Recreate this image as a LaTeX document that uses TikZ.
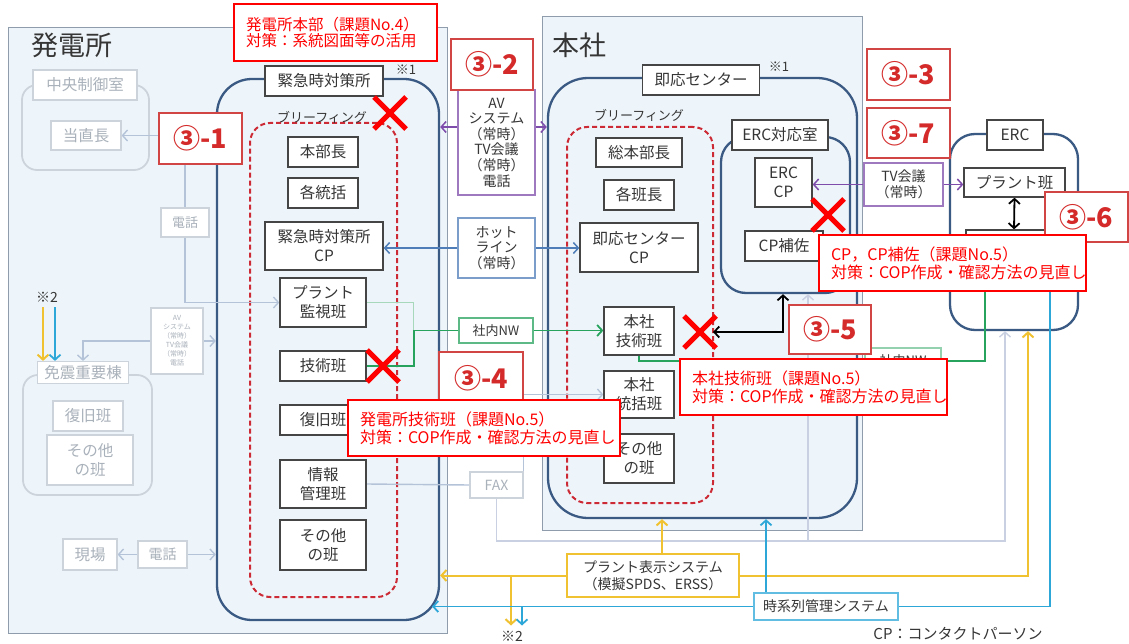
\documentclass[tikz,border=0pt]{standalone}
\usepackage{fontspec}
\setmainfont{Noto Sans CJK JP}
\usetikzlibrary{arrows.meta,calc}
\pgfdeclarelayer{bg}
\pgfdeclarelayer{lines}
\pgfdeclarelayer{top}
\pgfsetlayers{bg,lines,main,top}

\definecolor{regionfill}{HTML}{EEF5FA}
\definecolor{regionline}{HTML}{8E9CAC}
\definecolor{grp}{HTML}{3A5A84}
\definecolor{dashred}{HTML}{CC2B36}
\definecolor{boxline}{HTML}{454545}
\definecolor{txt}{HTML}{363636}
\definecolor{fadeline}{HTML}{CDD3DB}
\definecolor{fadetxt}{HTML}{A9B1BA}
\definecolor{fadearrow}{HTML}{B4C3D8}
\definecolor{callred}{HTML}{FF0000}
\definecolor{numred}{HTML}{D42A2A}
\definecolor{numline}{HTML}{D24545}
\definecolor{purp}{HTML}{7E4CAB}
\definecolor{hotb}{HTML}{4F7DB8}
\definecolor{grn}{HTML}{27A35E}
\definecolor{ltgrn}{HTML}{A8D8BC}
\definecolor{yel}{HTML}{F0C232}
\definecolor{cya}{HTML}{2DA7D8}
\definecolor{ltg}{HTML}{C9D0E2}

\tikzset{
  sz/.style 2 args={minimum width=#1pt,minimum height=#2pt},
  fnt/.style 2 args={font=\fontsize{#1}{#2}\selectfont},
  box/.style={draw=boxline,line width=1.3pt,fill=white,text=txt,inner sep=0pt,align=center,fnt={15.5}{19}},
  fbox/.style={draw=fadeline,line width=1.2pt,fill=white,text=fadetxt,inner sep=0pt,align=center,fnt={15.5}{19}},
  region/.style={draw=regionline,line width=1pt,fill=regionfill,inner sep=0pt},
  grpbox/.style={draw=grp,line width=2.3pt,rounded corners=35pt,inner sep=0pt},
  fgrp/.style={draw=fadeline,line width=1.8pt,rounded corners=15pt,inner sep=0pt},
  brief/.style={draw=dashred,line width=2pt,dash pattern=on 5pt off 3pt,rounded corners=20pt,inner sep=0pt},
  num/.style={draw=numline,line width=2pt,fill=white,text=numred,inner sep=0pt,font=\fontsize{27}{29}\selectfont\bfseries},
  call/.style={draw=callred,line width=2pt,fill=white,text=callred,align=left,inner xsep=12pt,inner ysep=0pt,fnt={16}{18}},
  cross/.style={draw=callred,line width=5pt},
  tip/.style={>={Straight Barb[length=5pt,width=11pt]}},
  fadearr/.style={tip,draw=fadearrow,line width=1.4pt},
  ltga/.style={tip,draw=ltg,line width=1.4pt},
  purpa/.style={tip,draw=purp,line width=1.5pt},
  hota/.style={tip,draw=hotb,line width=1.5pt},
  grna/.style={tip,draw=grn,line width=1.8pt},
  ltgrna/.style={draw=ltgrn,line width=1.4pt},
  blka/.style={tip,draw=black,line width=1.8pt},
  yela/.style={tip,draw=yel,line width=2pt},
  cyaa/.style={tip,draw=cya,line width=1.8pt},
  lbl/.style={text=txt,inner sep=0pt}
}

\begin{document}
\begin{tikzpicture}[x=1pt,y=-1pt]
\useasboundingbox (0,0) rectangle (1129,644);

\begin{pgfonlayer}{bg}
\fill[white] (0,0) rectangle (1129,644);
\node[region,sz={439}{605}] (hregion) at (227.5,330.5) {};
\node[region,sz={320}{513}] (sregion) at (702,273.5) {};
\node[fgrp,sz={127}{85}] (ccgrp) at (85.5,127.5) {};
\node[fgrp,sz={129}{120}] (mgrp) at (87.5,435) {};
\node[grpbox,sz={222}{541}] (kgroup) at (328,349.5) {};
\node[grpbox,rounded corners=40pt,sz={309}{440}] (sgroup) at (702.5,298) {};
\node[grpbox,rounded corners=25pt,sz={129}{156}] (ercroom) at (785.5,215) {};
\node[grpbox,rounded corners=25pt,sz={128}{196}] (ercg) at (1014,232) {};
\node[brief,sz={147}{474}] (kbrief) at (323.5,360) {};
\node[brief,sz={146}{376}] (sbrief) at (640,315) {};
\end{pgfonlayer}

% titles
\node[lbl,fnt={27}{29}] (hatsuden) at (72,45) {発電所};
\node[lbl,fnt={27}{29}] (honsha) at (579,45) {本社};
\node[lbl,fnt={13}{15}] (brief1) at (322,117) {ブリーフィング};
\node[lbl,fnt={13}{15}] (brief2) at (639,115) {ブリーフィング};
\node[lbl,fnt={13}{15}] (s1a) at (406,70) {※1};
\node[lbl,fnt={13}{15}] (s1b) at (779,67) {※1};
\node[lbl,fnt={14}{16}] (s2a) at (47,297) {※2};
\node[lbl,fnt={14}{16}] (s2b) at (512,636) {※2};
\node[lbl,fnt={15}{17}] (cpnote) at (958,634) {CP：コンタクトパーソン};

% faded boxes
\node[fbox,sz={104}{30}] (ccl) at (85,85) {中央制御室};
\node[fbox,sz={70}{29}] (tochoku) at (86,135.5) {当直長};
\node[fbox,sz={48}{29},fnt={13}{15}] (tel1) at (185,222.5) {電話};
\node[fbox,sz={52}{66},fnt={7}{9}] (smallav) at (177,341) {AV\\システム\\（常時）\\TV会議\\（常時）\\電話};
\node[fbox,sz={91}{22}] (menl) at (83,372.5) {免震重要棟};
\node[fbox,sz={70}{30}] (fukkyu1) at (88,416) {復旧班};
\node[fbox,sz={86}{50}] (sonota1) at (90,460) {その他\\の班};
\node[fbox,sz={54}{31}] (genba) at (90,554.5) {現場};
\node[fbox,sz={49}{27},fnt={14}{16}] (tel2) at (162.5,554.5) {電話};
\node[fbox,sz={53}{26},fnt={14}{16}] (fax) at (496.5,485) {FAX};

% plant HQ boxes
\node[box,sz={118}{30}] (kl) at (324,81) {緊急時対策所};
\node[box,sz={70}{30}] (honbucho) at (323,152) {本部長};
\node[box,sz={70}{30}] (kakutokatsu) at (323,193) {各統括};
\node[box,sz={118}{48}] (kcp) at (324,246) {緊急時対策所\\CP};
\node[box,sz={86}{49}] (pmon) at (323,302.5) {プラント\\監視班};
\node[box,sz={86}{30}] (gtech) at (323,366) {技術班};
\node[box,sz={86}{30}] (gfuk) at (323,420) {復旧班};
\node[box,sz={86}{48}] (joho) at (323,484) {情報\\管理班};
\node[box,sz={86}{50}] (gsonota) at (323,545) {その他\\の班};

% head office boxes
\node[box,sz={117}{30}] (sl) at (701,80) {即応センター};
\node[box,sz={86}{29}] (sohonbu) at (639,152.5) {総本部長};
\node[box,sz={70}{30}] (hancho) at (639,195) {各班長};
\node[box,sz={118}{49}] (scp) at (639,247.5) {即応センター\\CP};
\node[box,sz={70}{48}] (hstech) at (639,331) {本社\\技術班};
\node[box,sz={70}{47}] (hstokatsu) at (639,394.5) {本社\\統括班};
\node[box,sz={70}{49}] (hssonota) at (639,458.5) {その他\\の班};
\node[box,sz={96}{30}] (ercrl) at (780,135) {ERC対応室};
\node[box,sz={57}{49}] (erccp) at (783.5,182.5) {ERC\\CP};
\node[box,sz={78}{30}] (cphosa) at (784,246) {CP補佐};

% ERC
\node[box,sz={56}{30}] (ercl) at (1015,135) {ERC};
\node[box,sz={101}{29}] (plant) at (1014.5,182.5) {プラント班};
\node[box,sz={96}{32}] (erc2) at (1014,246) {};

% communication boxes
\node[box,draw=purp!75,sz={77}{105},fnt={14}{15.6}] (av) at (496.5,142.5) {AV\\システム\\（常時）\\TV会議\\（常時）\\電話};
\node[box,draw=hotb!75,sz={77}{60},fnt={14}{15.6}] (hot) at (496.5,248) {ホット\\ライン\\（常時）};
\node[box,draw=grn!75,sz={74}{25},fnt={13}{15}] (nw) at (496,330.5) {社内NW};
\node[box,draw=purp!75,sz={79}{43},fnt={14}{16}] (tv) at (903.5,184.5) {TV会議\\（常時）};
\node[box,draw=grn!50,sz={76}{26},fnt={13}{15}] (nw2) at (903,361) {社内NW};
\node[box,draw=yel,line width=1.6pt,sz={172}{43},fnt={14}{17}] (pds) at (653,575.5) {プラント表示システム\\（模擬SPDS、ERSS）};
\node[box,draw=cya!75,line width=1.6pt,sz={144}{27},fnt={14}{16}] (ts) at (826,606.5) {時系列管理システム};

% connectors
\begin{pgfonlayer}{lines}
\draw[fadearr,<->] (tochoku.east) -- (185,135.5) |- (pmon.west);
\draw[fadearr,->] (smallav.west) -| (menl.north);
\draw[fadearr,->] (smallav.east) -- (smallav.east -| kgroup.west);
\draw[fadearr,->] (tel2.west) -- (genba.east);
\draw[fadearr,->] (tel2.east) -- (tel2.east -| kgroup.west);
\draw[fadearr] (joho.east) -- (fax.west);
\draw[fadearr,->] (fax.north east) |- (hstokatsu.west);
\coordinate (gl) at (1005,541);
\coordinate (gb) at (808,541);
\draw[ltga,->] (fax.south) |- (gl) -- (gl |- ercg.south);
\draw[ltga,->] (gb) -- (gb |- ercroom.south);
\coordinate (avy) at (0,127);
\draw[purpa,->] (av.west |- avy) -- (kgroup.east |- avy);
\draw[purpa,->] (av.east |- avy) -- (sgroup.west |- avy);
\draw[purpa,->] (tv.west) -- (tv.west -| erccp.east);
\draw[purpa,->] (tv.east) -- (tv.east -| plant.west);
\draw[hota,->] (hot.west) -- (hot.west -| kcp.east);
\draw[hota,->] (hot.east) -- (hot.east -| scp.west);
\draw[ltgrna] (pmon.east) -- ++(47,0) -- ++(0,28);
\draw[grna] (gtech.east) -- ++(47,0) |- (nw.west);
\draw[grna,->] (nw.east) -- (nw.east -| hstech.west);
\coordinate (g985) at (985,0);
\draw[grna] (hstech.south) |- (nw2.west);
\draw[grna] (nw2.east) -| (g985 |- erc2.south);
\coordinate (bx) at (713,332);
\coordinate (bc) at (783,332);
\draw[blka,<->] (bx) -- (bc) -- (bc |- ercroom.south);
\draw[blka,<->] (plant.south) -- (erc2.north);
\draw[yela,->] ([xshift=9pt]pds.north) -- ([xshift=9pt]pds.north |- sgroup.south);
\draw[yela,->] (pds.west) -- (pds.west -| kgroup.east);
\coordinate (y2) at (511,575.5);
\draw[yela,->] (y2) -- ++(0,50);
\coordinate (y3) at (1028,0);
\draw[yela,->] (pds.east) -| (y3 |- ercg.south);
\draw[cyaa,->] ([xshift=-60pt]ts.north) -- ([xshift=-60pt]ts.north |- sgroup.south);
\coordinate (cyl) at (432,606.5);
\draw[cyaa,->] (ts.west) -- (cyl);
\coordinate (c2) at (522,606.5);
\draw[cyaa,->] (c2) -- ++(0,19);
\coordinate (c3) at (1050,0);
\draw[cyaa] (ts.east) -| (c3 |- erc2.south);
\coordinate (ya) at (43,307);
\coordinate (ca) at (55,307);
\draw[yela,->] (ya) -- (ya |- menl.north);
\draw[cyaa,->] (ca) -- (ca |- menl.north);
\end{pgfonlayer}

% numbered tags, callouts, crosses
\begin{pgfonlayer}{top}
\node[num,sz={83}{51}] (n31) at (200.5,138.5) {③-1};
\node[num,sz={82}{51}] (n32) at (492,64.5) {③-2};
\node[num,sz={83}{51}] (n33) at (908.5,74.5) {③-3};
\node[num,sz={84}{52}] (n34) at (481,378) {③-4};
\node[num,sz={82}{49}] (n35) at (830,329.5) {③-5};
\node[num,sz={83}{50}] (n36) at (1086.5,217) {③-6};
\node[num,sz={83}{50}] (n37) at (908.5,133) {③-7};

\node[call,text width=179pt,minimum height=57pt,fnt={15.5}{16}] (c1) at (335.5,32.5) {発電所本部（課題No.4）\\対策：系統図面等の活用};
\node[call,text width=248pt,minimum height=56pt] (c2) at (484,428) {発電所技術班（課題No.5）\\対策：COP作成・確認方法の見直し};
\node[call,text width=243pt,minimum height=56pt] (c3) at (813.5,387) {本社技術班（課題No.5）\\対策：COP作成・確認方法の見直し};
\node[call,text width=243pt,minimum height=56pt] (c4) at (952.5,263) {CP，CP補佐（課題No.5）\\対策：COP作成・確認方法の見直し};

\draw[cross,shift={(390,113)}] (-16,-16) -- (16,16) (-16,16) -- (16,-16);
\draw[cross,shift={(383,366)}] (-16,-16) -- (16,16) (-16,16) -- (16,-16);
\draw[cross,shift={(700,332)}] (-16,-16) -- (16,16) (-16,16) -- (16,-16);
\draw[cross,shift={(828,215)}] (-16,-16) -- (16,16) (-16,16) -- (16,-16);
\end{pgfonlayer}
\end{tikzpicture}
\end{document}
